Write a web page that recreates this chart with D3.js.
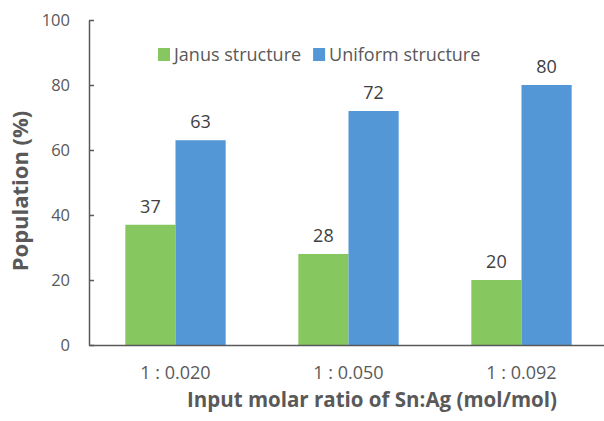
<!DOCTYPE html>
<html>
<head>
<meta charset="utf-8">
<script src="https://cdn.jsdelivr.net/npm/d3@7"></script>
<style>
  body { margin: 0; background: #fff; }
  text { font-family: "Open Sans", "Noto Sans", sans-serif; fill: #595959; }
</style>
</head>
<body>
<div id="chart"></div>
<script>
const categories = ['1 : 0.020', '1 : 0.050', '1 : 0.092'];
const seriesNames = ['Janus structure', 'Uniform structure'];
const janus = [37, 28, 20];
const uniform = [63, 72, 80];
const yTicks = [0, 20, 40, 60, 80, 100];
const colors = ['#86c75f', '#5397d6'];

const width = 604, height = 421;
const margin = { left: 89, top: 20, bottom: 345 };

const svg = d3.select('#chart').append('svg')
  .attr('width', width)
  .attr('height', height);

const x0 = d3.scaleBand()
  .domain(categories)
  .range([margin.left, 608])
  .paddingInner(0.42)
  .paddingOuter(0.21);

const x1 = d3.scaleBand()
  .domain(seriesNames)
  .range([0, x0.bandwidth()]);

const y = d3.scaleLinear()
  .domain([0, 100])
  .range([margin.bottom, margin.top]);

// y axis, ticks pointing inward
const yAxis = svg.append('g')
  .attr('transform', `translate(${margin.left},0)`)
  .call(d3.axisLeft(y).tickValues(yTicks).tickSize(-5).tickSizeOuter(0).tickPadding(19));
yAxis.selectAll('text').style('font-size', '16.5px').style('fill', '#595959');
yAxis.selectAll('line, .domain').attr('stroke', '#595959').attr('stroke-width', 1.5);

// bars
const rows = categories.map((c, i) => ({ cat: c, values: [janus[i], uniform[i]] }));
const groups = svg.selectAll('.grp')
  .data(rows)
  .enter().append('g')
  .attr('transform', d => `translate(${x0(d.cat)},0)`);

groups.selectAll('rect')
  .data(d => d.values.map((v, k) => ({ name: seriesNames[k], v, k })))
  .enter().append('rect')
  .attr('x', d => x1(d.name))
  .attr('y', d => y(d.v))
  .attr('width', x1.bandwidth())
  .attr('height', d => y(0) - y(d.v))
  .attr('fill', d => colors[d.k]);

groups.selectAll('.lbl')
  .data(d => d.values.map((v, k) => ({ name: seriesNames[k], v })))
  .enter().append('text')
  .attr('x', d => x1(d.name) + x1.bandwidth() / 2)
  .attr('y', d => y(d.v) - 12)
  .attr('text-anchor', 'middle')
  .style('font-size', '18px')
  .style('fill', '#404040')
  .text(d => d.v);

// x axis
const xAxis = svg.append('g')
  .attr('transform', `translate(0,${margin.bottom})`)
  .call(d3.axisBottom(x0).tickSize(0).tickPadding(21));
xAxis.selectAll('text').style('font-size', '18px').style('fill', '#595959');
xAxis.select('.domain').attr('stroke', '#595959').attr('stroke-width', 1.5);

// axis titles
svg.append('text')
  .attr('transform', `translate(28,191) rotate(-90)`)
  .attr('text-anchor', 'middle')
  .style('font-size', '22px')
  .style('font-weight', 'bold')
  .text('Population (%)');

svg.append('text')
  .attr('x', 372)
  .attr('y', 407)
  .attr('text-anchor', 'middle')
  .style('font-size', '20.5px')
  .style('font-weight', 'bold')
  .text('Input molar ratio of Sn:Ag (mol/mol)');

// legend
const legend = svg.append('g').attr('transform', 'translate(158,55)');
let lx = 0;
seriesNames.forEach((name, k) => {
  legend.append('rect')
    .attr('x', lx).attr('y', -7)
    .attr('width', 12).attr('height', 13)
    .attr('fill', colors[k]);
  const t = legend.append('text')
    .attr('x', lx + 16).attr('y', 6)
    .style('font-size', '18px')
    .text(name);
  lx += t.node().getComputedTextLength() + 28;
});
</script>
</body>
</html>
